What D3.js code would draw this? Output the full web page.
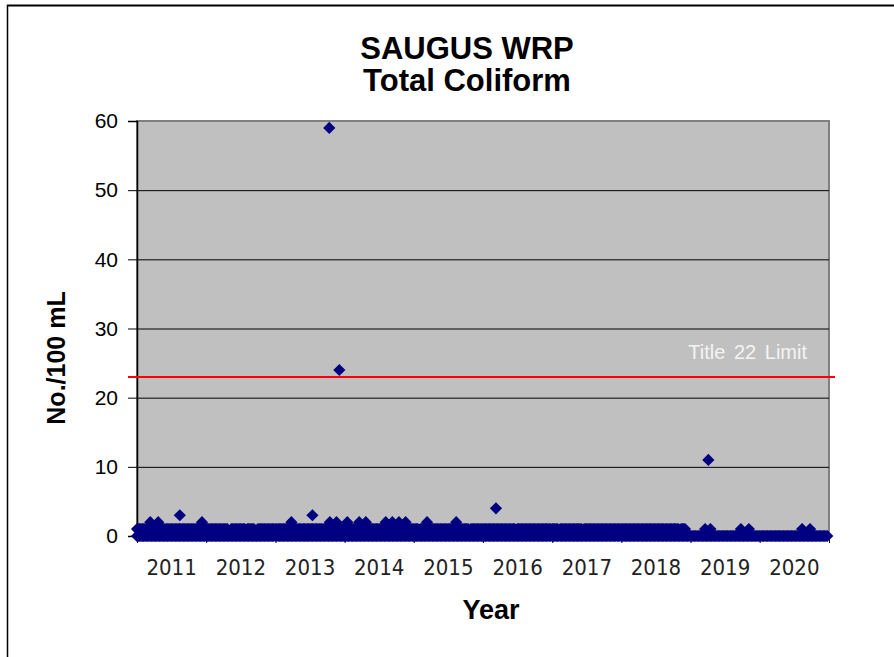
<!DOCTYPE html>
<html>
<head>
<meta charset="utf-8">
<script src="https://cdn.jsdelivr.net/npm/d3@7"></script>
<style>
  body { margin: 0; background: #fff; }
  svg { display: block; }
</style>
</head>
<body>
<svg id="chart"></svg>
<script>
// Years shown on the x axis
const years = [2011, 2012, 2013, 2014, 2015, 2016, 2017, 2018, 2019, 2020];
const yTicks = [0, 10, 20, 30, 40, 50, 60];

// Weekly highest routine reading (No./100 mL) for each year, 52 weeks
const weeklyMax = [
    "1111111111211 1112111111111 1111111111111 1111111111211", // 2011
    "1111111111111 1111001111111 1111011111100 1111111111111", // 2012
    "1111111111112 1111111111111 1111111111111 1121111211111", // 2013
    "1121111111121 1112111111111 1111121111211 1121111211111", // 2014
    "1111011111211 1111111111111 1111112111111 1110111111111", // 2015
    "1111111111111 1111111111110 1111111111111 1111111111111", // 2016
    "1111101111111 1111111111011 1111111111111 1111111111111", // 2017
    "1111111111111 1111111111111 1111111111111 1111101111000", // 2018
    "0000000000010 0010000000000 0000000000001 0000010000000", // 2019
    "0000000000000 0000000000000 0000001000001 0000000000000"  // 2020
];

// Individual higher results
const outlierDates = ["2011-08-15", "2013-07-15", "2013-10-12", "2013-12-04", "2016-03-10", "2019-04-05"];
const outlierValues = [3, 3, 59, 24, 4, 11];

const limitValue = 23;
const limitLabel = "Title 22 Limit";

const width = 894;
const height = 657;
const svg = d3.select("#chart").attr("width", width).attr("height", height);

const x = d3.scaleTime()
    .domain([new Date(2011, 0, 1), new Date(2021, 0, 1)])
    .range([137, 829]);
const y = d3.scaleLinear().domain([0, 60]).range([536, 121]);

// Build points from the weekly table
const points = [];
weeklyMax.forEach((row, i) => {
    const digits = row.replace(/ /g, "");
    for (let w = 0; w < digits.length; w++) {
        const date = new Date(years[i], 0, 1 + w * 7);
        const max = +digits[w];
        for (let v = 0; v <= max; v++) points.push({ date, value: v });
    }
});
outlierDates.forEach((d, i) => points.push({ date: new Date(d), value: outlierValues[i] }));

// Outer frame
svg.append("line").attr("x1", 7).attr("x2", width).attr("y1", 5.5).attr("y2", 5.5)
    .attr("stroke", "#000").attr("stroke-width", 2);
svg.append("line").attr("x1", 7.5).attr("x2", 7.5).attr("y1", 5).attr("y2", height)
    .attr("stroke", "#000").attr("stroke-width", 1.5);

// Plot area
svg.append("rect")
    .attr("x", x.range()[0]).attr("y", y(60))
    .attr("width", x.range()[1] - x.range()[0]).attr("height", y(0) - y(60))
    .attr("fill", "#c0c0c0").attr("stroke", "#808080").attr("stroke-width", 2);

// Gridlines
svg.append("g").selectAll("line").data(yTicks.filter((t) => t > 0 && t < 60)).join("line")
    .attr("x1", x.range()[0]).attr("x2", x.range()[1])
    .attr("y1", (d) => y(d) + 0.5).attr("y2", (d) => y(d) + 0.5)
    .attr("stroke", "#000").attr("stroke-width", 1);

// Y axis
const yAxis = svg.append("g").attr("transform", `translate(${x.range()[0]},0)`)
    .call(d3.axisLeft(y).tickValues(yTicks).tickSize(9).tickPadding(10));
yAxis.select(".domain").attr("stroke", "#000").attr("stroke-width", 1.5);
yAxis.selectAll("text").attr("font-family", "Liberation Sans, Arial, sans-serif")
    .attr("font-size", 21).attr("fill", "#000");

// X axis: ticks at year boundaries, labels mid-year
const yearStarts = d3.range(2011, 2022).map((yr) => new Date(yr, 0, 1));
const xAxis = svg.append("g").attr("transform", `translate(0,${y(0)})`)
    .call(d3.axisBottom(x).tickValues(yearStarts).tickSize(7).tickFormat(""));
xAxis.select(".domain").attr("stroke", "#000");
svg.append("g").selectAll("text").data(years).join("text")
    .attr("x", (d) => (x(new Date(d, 0, 1)) + x(new Date(d + 1, 0, 1))) / 2)
    .attr("y", 575)
    .attr("text-anchor", "middle")
    .attr("font-family", "DejaVu Sans Condensed, DejaVu Sans, sans-serif")
    .attr("font-size", 22)
    .attr("fill", "#222")
    .text((d) => d);

// Data points (diamonds)
const diamond = d3.symbol().type(d3.symbolSquare).size(74);
svg.append("g").selectAll("path").data(points).join("path")
    .attr("d", diamond)
    .attr("transform", (d) => `translate(${x(d.date)},${y(d.value)}) rotate(45)`)
    .attr("fill", "#000080");

// Limit line
svg.append("line")
    .attr("x1", 128).attr("x2", 835)
    .attr("y1", y(limitValue)).attr("y2", y(limitValue))
    .attr("stroke", "#ff0000").attr("stroke-width", 2);
svg.append("text")
    .attr("x", 807).attr("y", 359)
    .attr("text-anchor", "end")
    .attr("font-family", "Liberation Sans, Arial, sans-serif")
    .attr("font-size", 20)
    .attr("word-spacing", 3)
    .attr("fill", "#f4f4f4")
    .text(limitLabel);

// Titles
const title = svg.append("text")
    .attr("text-anchor", "middle")
    .attr("font-family", "Liberation Sans, Arial, sans-serif")
    .attr("font-weight", "bold")
    .attr("font-size", 31);
title.append("tspan").attr("x", 467).attr("y", 59).text("SAUGUS WRP");
title.append("tspan").attr("x", 467).attr("y", 91).text("Total Coliform");

svg.append("text")
    .attr("x", 491).attr("y", 619)
    .attr("text-anchor", "middle")
    .attr("font-family", "Liberation Sans, Arial, sans-serif")
    .attr("font-weight", "bold")
    .attr("font-size", 27)
    .text("Year");

svg.append("text")
    .attr("transform", "translate(65,358) rotate(-90)")
    .attr("text-anchor", "middle")
    .attr("font-family", "Liberation Sans, Arial, sans-serif")
    .attr("font-weight", "bold")
    .attr("font-size", 25)
    .text("No./100 mL");
</script>
</body>
</html>
